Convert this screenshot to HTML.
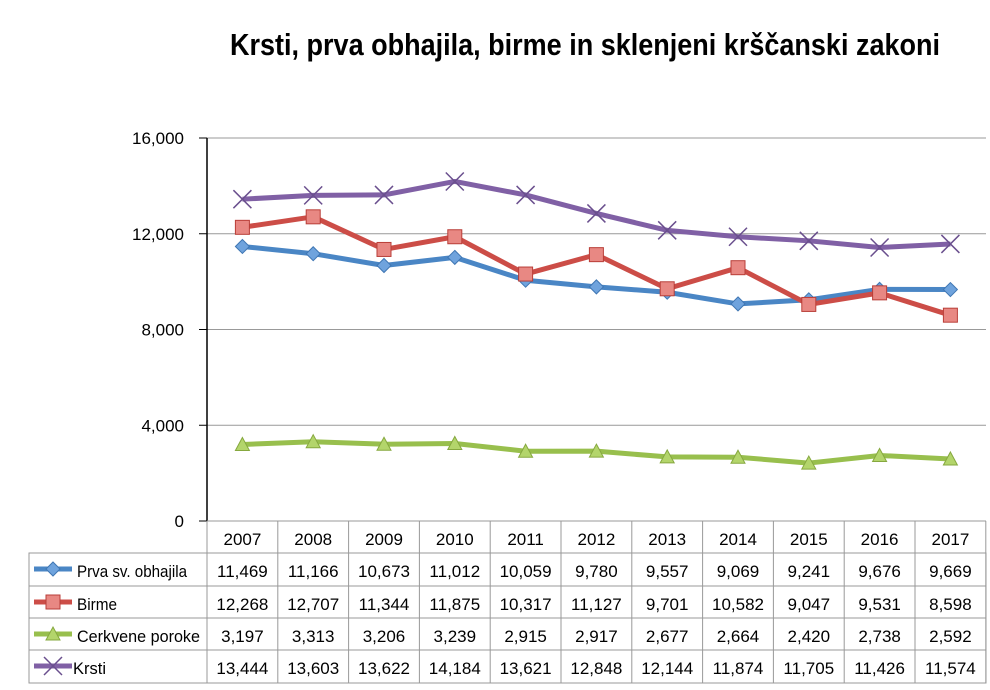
<!DOCTYPE html>
<html><head><meta charset="utf-8"><style>
body{margin:0;background:#fff;width:990px;height:685px;overflow:hidden}
svg text{font-family:"Liberation Sans Narrow","Liberation Sans",sans-serif}
</style></head><body>
<svg id="s" width="990" height="685" xmlns="http://www.w3.org/2000/svg">
<text x="230" y="55" textLength="710" lengthAdjust="spacingAndGlyphs" font-size="31" font-weight="bold" fill="#000">Krsti, prva obhajila, birme in sklenjeni krščanski zakoni</text>
</svg>
<script>
(function(){
const s=document.getElementById('s');let h='';
const X0=207,W=70.8,T=138,B=521;
const y=v=>B-v*(B-T)/16000;
const cx=i=>X0+W*(i+0.5);
const fmt=v=>String(v).replace(/\B(?=(\d{3})+(?!\d))/g,',');
[4000,8000,12000,16000].forEach(v=>{h+=`<line x1="${X0}" x2="986" y1="${y(v)}" y2="${y(v)}" stroke="#999" stroke-width="1"/>`;});
[0,4000,8000,12000,16000].forEach(v=>{h+=`<line x1="199" x2="${X0}" y1="${y(v)}" y2="${y(v)}" stroke="#000"/>`;
h+=`<text x="184" y="${y(v)+6}" text-anchor="end" font-size="17">${fmt(v)}</text>`;});
h+=`<line x1="${X0}" x2="${X0}" y1="${T}" y2="${B}" stroke="#000" stroke-width="1.5"/>`;
const years=[2007,2008,2009,2010,2011,2012,2013,2014,2015,2016,2017];
const series=[
['Prva sv. obhajila','#4a86c5','d',[11469,11166,10673,11012,10059,9780,9557,9069,9241,9676,9669],110],
['Birme','#cc4d47','s',[12268,12707,11344,11875,10317,11127,9701,10582,9047,9531,8598],40],
['Cerkvene poroke','#98bf4d','t',[3197,3313,3206,3239,2915,2917,2677,2664,2420,2738,2592],123],
['Krsti','#8060a5','x',[13444,13603,13622,14184,13621,12848,12144,11874,11705,11426,11574],33]];
function mk(t,x,yy){
 if(t=='d')return `<polygon points="${x},${yy-7} ${x+7},${yy} ${x},${yy+7} ${x-7},${yy}" fill="#6fa3dd" stroke="#3f76b3"/>`;
 if(t=='s')return `<rect x="${x-7}" y="${yy-7}" width="14" height="14" fill="#e88883" stroke="#b93e38"/>`;
 if(t=='t')return `<polygon points="${x},${yy-7} ${x+7},${yy+6} ${x-7},${yy+6}" fill="#b3d56b" stroke="#86a83f"/>`;
 return `<path d="M${x-9} ${yy-9}L${x+9} ${yy+9}M${x-9} ${yy+9}L${x+9} ${yy-9}" stroke="#6a4f8e" stroke-width="1.5"/>`;}
series.forEach(([n,c,t,d])=>{
 h+=`<polyline fill="none" stroke="${c}" stroke-width="5" stroke-linejoin="round" points="${d.map((v,i)=>cx(i)+','+y(v)).join(' ')}"/>`;
 d.forEach((v,i)=>h+=mk(t,cx(i),y(v)));});
const rows=[521,553,586,618,650,683];
h+=`<rect x="29" y="553" width="957" height="130" fill="none" stroke="#999"/>`;
for(let i=0;i<=11;i++)h+=`<line x1="${X0+W*i}" x2="${X0+W*i}" y1="521" y2="683" stroke="#999"/>`;
rows.slice(1).forEach(r=>h+=`<line x1="29" x2="986" y1="${r}" y2="${r}" stroke="#999"/>`);
h+=`<line x1="${X0}" x2="986" y1="521" y2="521" stroke="#999"/>`;
years.forEach((yr,i)=>h+=`<text x="${cx(i)}" y="545" text-anchor="middle" font-size="17">${yr}</text>`);
series.forEach(([n,c,t,d,tl],j)=>{
 const ty=rows[j+1]+24, my=rows[j+1]+16;
 h+=`<line x1="34" x2="72" y1="${my}" y2="${my}" stroke="${c}" stroke-width="5"/>`+mk(t,53,my);
 h+=`<text x="${t=='x'?73:77}" y="${ty}" font-size="17" textLength="${tl}" lengthAdjust="spacingAndGlyphs">${n}</text>`;
 d.forEach((v,i)=>h+=`<text x="${cx(i)}" y="${ty}" text-anchor="middle" font-size="17">${fmt(v)}</text>`);});
s.insertAdjacentHTML('beforeend',h);
})();
</script>
</body></html>
